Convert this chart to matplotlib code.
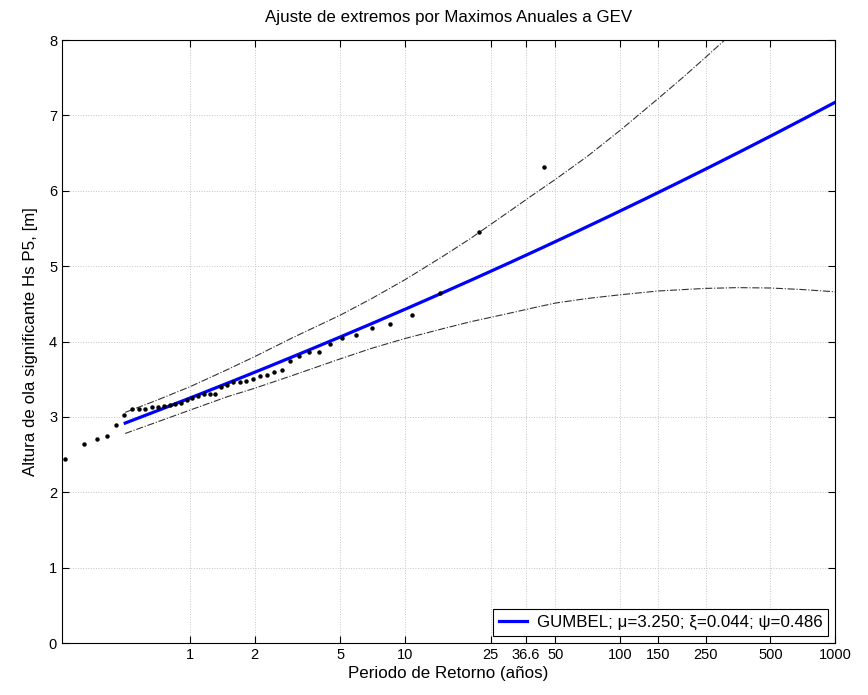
import numpy as np
import matplotlib
matplotlib.use("Agg")
import matplotlib.pyplot as plt

plt.rcParams['font.family'] = ['Liberation Sans', 'DejaVu Sans']

# GEV parameters of the fit
mu = 3.250
xi = 0.044
psi = 0.486

# Empirical annual maxima: return period (years) and wave height (m)
obs_T = [0.263, 0.321, 0.369, 0.413, 0.455, 0.496, 0.537, 0.579, 0.621, 0.665,
         0.710, 0.757, 0.805, 0.856, 0.910, 0.967, 1.027, 1.091, 1.160, 1.233,
         1.312, 1.397, 1.490, 1.591, 1.701, 1.823, 1.958, 2.108, 2.276, 2.466,
         2.683, 2.933, 3.224, 3.568, 3.979, 4.481, 5.109, 5.914, 6.988, 8.490,
         10.742, 14.49, 22.00, 44.50]
obs_H = [2.44, 2.64, 2.71, 2.75, 2.89, 3.02, 3.10, 3.10, 3.11, 3.13,
         3.13, 3.14, 3.16, 3.17, 3.18, 3.23, 3.25, 3.28, 3.30, 3.31,
         3.31, 3.40, 3.42, 3.46, 3.46, 3.47, 3.50, 3.54, 3.56, 3.60,
         3.62, 3.74, 3.81, 3.855, 3.86, 3.97, 4.05, 4.08, 4.18, 4.235,
         4.357, 4.64, 5.45, 6.32]

# Confidence band limits
band_T = [0.5, 0.7, 1, 1.5, 2, 3, 5, 7, 10, 15, 20, 30, 40, 50, 70, 100,
          150, 200, 250, 300, 350, 500, 700, 1000]
band_up = [3.06, 3.22, 3.40, 3.63, 3.80, 4.05, 4.35, 4.57, 4.82, 5.13, 5.36,
           5.71, 5.96, 6.15, 6.45, 6.80, 7.22, 7.525, 7.77, 7.975, 8.15, 8.57,
           9.00, 9.45]
band_lo = [2.78, 2.93, 3.09, 3.27, 3.38, 3.55, 3.77, 3.91, 4.04, 4.17, 4.26,
           4.37, 4.45, 4.51, 4.57, 4.62, 4.67, 4.69, 4.705, 4.71, 4.715, 4.71,
           4.69, 4.66]

xticks = [1, 2, 5, 10, 25, 36.6, 50, 100, 150, 250, 500, 1000]
xtick_labels = ['1', '2', '5', '10', '25', '36.6', '50', '100', '150', '250', '500', '1000']
yticks = [0, 1, 2, 3, 4, 5, 6, 7, 8]

fig = plt.figure(figsize=(8.68, 6.95), dpi=100)
ax = fig.add_axes([0.0714, 0.0748, 0.8906, 0.8676])

T_fit = np.logspace(np.log10(0.5), 3, 300)
H_fit = mu + psi / xi * (T_fit ** xi - 1.0)

ax.plot(T_fit, H_fit, color=(0, 0, 1), lw=2.3, zorder=3,
        label='GUMBEL; \u03bc=3.250; \u03be=0.044; \u03c8=0.486')
ax.plot(band_T, band_up, color='#333333', lw=0.8, ls='-.', zorder=2)
ax.plot(band_T, band_lo, color='#333333', lw=0.8, ls='-.', zorder=2)
ax.plot(obs_T, obs_H, ls='none', marker='o', ms=2.2, color='black', zorder=4)

ax.set_xscale('log')
ax.set_xlim(0.254, 1000)
ax.set_ylim(0, 8)
ax.set_xticks(xticks)
ax.set_xticklabels(xtick_labels)
ax.xaxis.set_minor_locator(matplotlib.ticker.NullLocator())
ax.set_yticks(yticks)

ax.grid(True, which='major', ls=':', lw=0.7, color='#c4c4c4')
ax.tick_params(direction='in', top=True, right=True, length=5, width=0.8,
               labelsize=10.5, colors='black')
for s in ax.spines.values():
    s.set_linewidth(0.8)
    s.set_color('black')

ax.set_title('Ajuste de extremos por Maximos Anuales a GEV', fontsize=12.2, pad=13)
ax.set_xlabel('Periodo de Retorno (años)', fontsize=12.2, labelpad=3)
ax.set_ylabel('Altura de ola significante Hs P5, [m]', fontsize=12.2, labelpad=8)

leg = ax.legend(loc='lower right', fontsize=12.2, fancybox=False, framealpha=1,
                edgecolor='black', borderaxespad=0.4, handlelength=1.6,
                handletextpad=0.6, borderpad=0.35)
leg.get_frame().set_linewidth(0.8)

fig.savefig('out.png', dpi=100)
